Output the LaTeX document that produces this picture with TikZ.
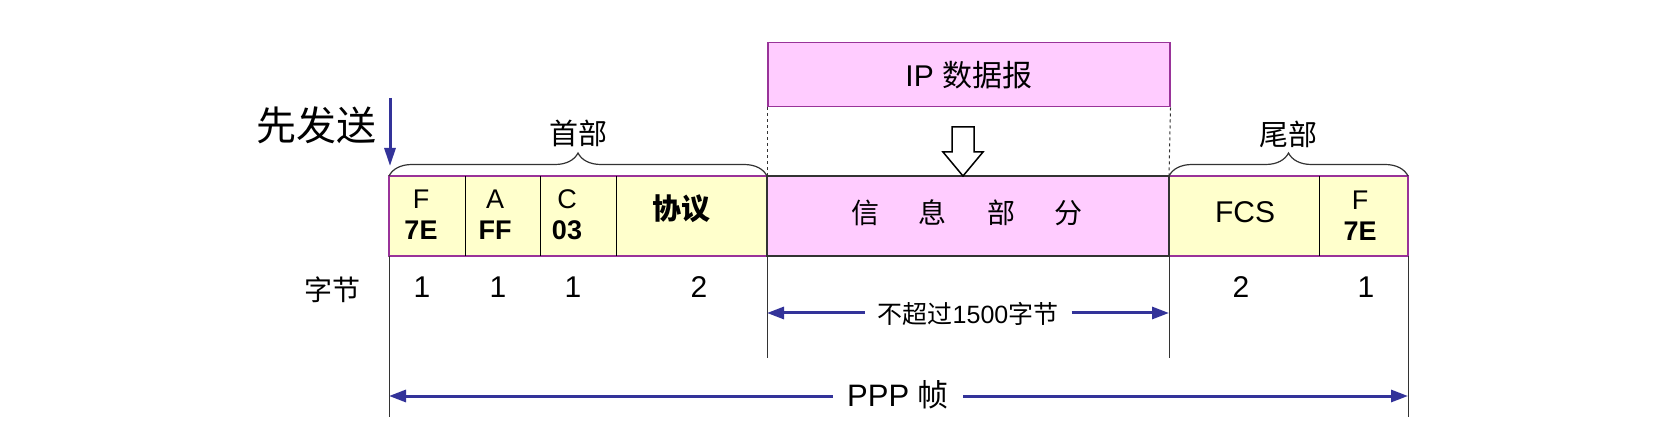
\documentclass[tikz,border=0pt]{standalone}
\usepackage{fontspec}
\setmainfont{Liberation Sans}
\newfontfamily\cjk{Noto Sans CJK SC}
\usetikzlibrary{arrows.meta,decorations.pathreplacing}
\definecolor{cellyellow}{HTML}{FFFFCC}
\definecolor{cellpink}{HTML}{FFCCFF}
\definecolor{edgepurple}{HTML}{993399}
\definecolor{arrowblue}{HTML}{333399}
\definecolor{linegray}{HTML}{333333}
\begin{document}
\begin{tikzpicture}[x=1pt,y=-1pt,
  cell/.style={draw=none, inner sep=0pt, outer sep=0pt, minimum height=80pt, anchor=north west},
  ycell/.style={cell, fill=cellyellow},
  pcell/.style={cell, fill=cellpink},
  lbl/.style={inner sep=0pt, font=\fontsize{27}{31}\selectfont, align=center},
  numlbl/.style={inner sep=0pt, font=\fontsize{30}{32}\selectfont},
  cjklbl/.style={inner sep=0pt, font=\fontsize{28}{32}\selectfont\cjk},
  divider/.style={draw=black, line width=1pt},
  frameedge/.style={draw=edgepurple, line width=1.5pt},
  guide/.style={draw=linegray, line width=1pt},
  dimarrow/.style={draw=arrowblue, line width=3pt, -{Triangle[length=17pt,width=12pt]}},
  bracestyle/.style={draw=linegray, line width=1.2pt, decorate, decoration={brace, amplitude=23pt}},
]
\useasboundingbox (0,0) rectangle (1669,435);

% IP datagram box
\node[draw=edgepurple, fill=cellpink, line width=1.5pt, minimum width=402pt, minimum height=64pt,
      inner sep=0pt, anchor=north west, font=\fontsize{30}{34}\selectfont] (ip) at (767,42) {IP {\cjk 数据报}};

% frame cells
\node[ycell, minimum width=76pt]  (cF)   at (389,176) {};
\node[ycell, minimum width=75pt]  (cA)   at (465,176) {};
\node[ycell, minimum width=76pt]  (cC)   at (540,176) {};
\node[ycell, minimum width=151pt] (cP)   at (616,176) {};
\node[pcell, minimum width=402pt] (info) at (767,176) {};
\node[ycell, minimum width=150pt] (cFCS) at (1169,176) {};
\node[ycell, minimum width=89pt]  (cF2)  at (1319,176) {};

\draw[frameedge] (cF.north west) rectangle (cP.south east);
\draw[frameedge] (cFCS.north west) rectangle (cF2.south east);
\draw[guide, line width=1.2pt] (info.north west) rectangle (info.south east);
\draw[divider] (cF.north east) -- (cF.south east);
\draw[divider] (cA.north east) -- (cA.south east);
\draw[divider] (cC.north east) -- (cC.south east);
\draw[divider] (cFCS.north east) -- (cFCS.south east);

% cell texts
\node[lbl] (tF)  at (421,215) {F\\\textbf{7E}};
\node[lbl] (tA)  at (495,215) {A\\\textbf{FF}};
\node[lbl] (tC)  at (567,215) {C\\\textbf{03}};
\node[cjklbl, font=\fontsize{29}{32}\selectfont\cjk\bfseries] (tP) at (681,209) {协议};
\node[cjklbl] (tInfo) at (967,213) {信\hspace{40pt}息\hspace{40pt}部\hspace{40pt}分};
\node[lbl, font=\fontsize{30}{32}\selectfont] (tFCS) at (1245,212) {FCS};
\node[lbl] (tF2) at (1360,216) {F\\\textbf{7E}};

% dashed guides from IP box
\draw[guide, dashed] (ip.south west) -- (info.north west);
\draw[guide, dashed] (ip.south east) -- (info.north east);

% hollow arrow
\draw[draw=black, fill=white, line width=1.5pt] (952,127) -- (974,127) -- (974,152) -- (983,152)
   -- (963,176) -- (943,152) -- (952,152) -- cycle;

% braces
\draw[bracestyle] (cF.north west) -- (cP.north east);
\draw[bracestyle] (cFCS.north west) -- (cF2.north east);
\node[cjklbl, font=\fontsize{29}{32}\selectfont\cjk] (hdr) at (578,133) {首部};
\node[cjklbl, font=\fontsize{29}{32}\selectfont\cjk] (trl) at (1288,134) {尾部};

% first-sent arrow
\node[inner sep=0pt, font=\fontsize{40}{44}\selectfont\cjk] (send) at (316,125) {先发送};
\coordinate (sendtop) at (390,98);
\coordinate (sendtip) at (390,166);
\draw[draw=arrowblue, line width=3pt, -{Triangle[length=18pt,width=11pt]}] (sendtop) -- (sendtip);

% byte counts
\node[inner sep=0pt, font=\fontsize{28}{30}\selectfont\cjk] (bytes) at (332,290) {字节};
\node[numlbl] (n1) at (422,287) {1};
\node[numlbl] (n2) at (498,287) {1};
\node[numlbl] (n3) at (573,287) {1};
\node[numlbl] (n4) at (699,287) {2};
\node[numlbl] (n5) at (1241,287) {2};
\node[numlbl] (n6) at (1366,287) {1};

% vertical guides
\coordinate (lbot) at (389,417);
\coordinate (rbot) at (1408,417);
\coordinate (mlbot) at (767,358);
\coordinate (mrbot) at (1169,358);
\draw[guide] (cF.south west) -- (lbot);
\draw[guide] (cF2.south east) -- (rbot);
\draw[guide] (info.south west) -- (mlbot);
\draw[guide] (info.south east) -- (mrbot);

% info length dimension
\node[inner xsep=13pt, inner ysep=0pt, font=\fontsize{25}{28}\selectfont] (dlab) at (968,314) {{\cjk 不超过}1500{\cjk 字节}};
\coordinate (d1l) at (767,313);
\coordinate (d1r) at (1169,313);
\draw[dimarrow] (dlab.west |- d1l) -- (d1l);
\draw[dimarrow] (dlab.east |- d1r) -- (d1r);

% frame length dimension
\node[inner xsep=14pt, inner ysep=0pt, font=\fontsize{31}{34}\selectfont] (plab) at (898,395) {PPP {\cjk 帧}};
\coordinate (pl) at (389,396);
\coordinate (pr) at (1408,396);
\draw[dimarrow] (plab.west |- pl) -- (pl);
\draw[dimarrow] (plab.east |- pr) -- (pr);
\end{tikzpicture}
\end{document}
